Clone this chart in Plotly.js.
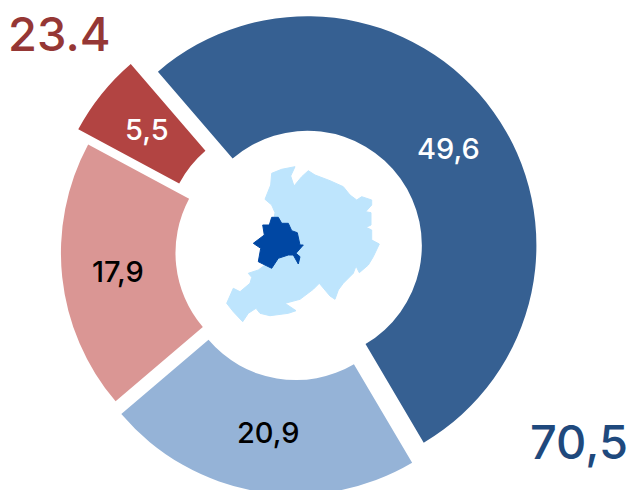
<!DOCTYPE html>
<html><head><meta charset="utf-8">
<script src="https://cdn.plot.ly/plotly-3.0.1.min.js"></script>
<style>html,body{margin:0;padding:0;background:#fff;overflow:hidden;width:633px;height:490px}#c{width:633px;height:504px}</style>
</head><body><div id="c"></div>
<script>
const categories = ["A","B","C","D"];
const values = [49.6,20.9,17.9,5.5];
const colors = ["#366092","#95B3D7","#DA9694","#B24442"];
const textColors = ["#ffffff","#000000","#000000","#ffffff"];
const pulls = [0.05,0.06,0.035,0.10];
const labelX = [448,268,118,147];
const labelY = [148,432,271,129];
const totalRed = "23.4";
const totalBlue = "70,5";
const regionX = [271.7,281.7,295,290.7,294,301.7,308.3,315,330,343.3,350,356.7,361.7,371.7,371.7,365.7,371,371,366,371.7,371.7,379.3,373.3,368.3,359.3,356,353.3,343.3,338.3,335,330,319.3,313.3,300,285,296,288.3,270,260,256,248.3,242.7,233.3,226.7,233.3,240,250,251.7,248.3,258.3,265,275,271.7,265,266.7,270.7,271.7];
const regionY = [173.3,169.3,166.7,176,186,176.7,170.7,175,180.7,186.7,195,200,196.7,200,205,211.7,212.7,225,227.3,230,240,244,256.7,265,272.7,266,273.3,283.3,290,299.3,296,283.3,289.3,299.3,303.3,310.7,313.3,315.7,313.3,308.3,313.3,321.7,311.7,303.3,288.3,291.7,283.3,277.3,273.3,270,265,212.7,205,199.3,195,185,173.3];
const cityX = [271.7,278.3,281.7,288.3,291.7,297.3,300,303.3,296,300,298.3,293.3,288.3,278.3,271.7,258.3,260.7,253.3,264.3,262.7,269.3,271.7];
const cityY = [217.3,217.3,223.3,223.3,230.7,232.7,245,245,253.3,256.7,264,255,255,258.3,268.3,261.7,248.3,243.3,235,225,225,217.3];
const font = "Inter, 'Liberation Sans', sans-serif";
const labelAnnotations = values.map((v,i)=>({text:v.toFixed(1).replace(".",","),x:labelX[i],y:labelY[i],xref:"x",yref:"y",showarrow:false,font:{family:font,size:29,weight:500,color:textColors[i]}}));
const traces = [
 {type:"pie",labels:categories,values:values,sort:false,direction:"clockwise",rotation:319.3,hole:0.5,pull:pulls,
  marker:{colors:colors,line:{width:0}},textinfo:"none",
  domain:{x:[0,596/633],y:[0,1]},showlegend:false,hoverinfo:"skip"},
 {type:"scatter",mode:"lines",x:regionX,y:regionY,fill:"toself",fillcolor:"#BEE5FD",line:{color:"#BEE5FD",width:1},xaxis:"x",yaxis:"y",showlegend:false,hoverinfo:"skip"},
 {type:"scatter",mode:"lines",x:cityX,y:cityY,fill:"toself",fillcolor:"#0047A3",line:{color:"#0047A3",width:1},xaxis:"x",yaxis:"y",showlegend:false,hoverinfo:"skip"}
];
const layout = {width:633,height:504,margin:{l:0,r:0,t:0,b:0},paper_bgcolor:"#fff",plot_bgcolor:"rgba(0,0,0,0)",
 xaxis:{range:[0,633],visible:false,fixedrange:true},
 yaxis:{range:[504,0],visible:false,fixedrange:true},
 annotations:labelAnnotations.concat([
  {text:totalRed,x:59,y:33,xref:"x",yref:"y",showarrow:false,font:{family:font,size:47,weight:500,color:"#953735"}},
  {text:totalBlue,x:579,y:441,xref:"x",yref:"y",showarrow:false,font:{family:font,size:47,weight:500,color:"#1F497D"}}
 ])};
Plotly.newPlot("c",traces,layout,{displayModeBar:false,staticPlot:true});
</script></body></html>
